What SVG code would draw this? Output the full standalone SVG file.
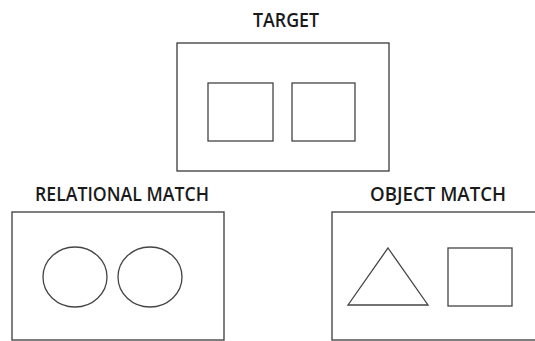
<svg xmlns="http://www.w3.org/2000/svg" width="535" height="341" viewBox="0 0 535 341">
<style>
.box{fill:#fff;stroke:#3a3a3a;stroke-width:1.3}
.sh{fill:none;stroke:#444;stroke-width:1.3}
.lbl{font-family:"Open Sans","Liberation Sans",sans-serif;font-size:19px;font-weight:600;fill:#1a1a1a;text-anchor:middle}
</style>
<rect width="535" height="341" fill="#fff"/>
<g id="target">
<text class="lbl" x="286" y="27" textLength="66" lengthAdjust="spacingAndGlyphs">TARGET</text>
<rect class="box" x="177" y="43" width="212" height="128"/>
<rect class="sh" x="208" y="83" width="65" height="58"/>
<rect class="sh" x="292" y="83" width="63" height="58"/>
</g>
<g id="relational">
<text class="lbl" x="122" y="201" textLength="174" lengthAdjust="spacingAndGlyphs">RELATIONAL MATCH</text>
<rect class="box" x="12" y="212" width="212" height="128"/>
<ellipse class="sh" cx="75" cy="277" rx="32" ry="30"/>
<ellipse class="sh" cx="150" cy="277" rx="32" ry="30"/>
</g>
<g id="object">
<text class="lbl" x="438" y="201" textLength="136" lengthAdjust="spacingAndGlyphs">OBJECT MATCH</text>
<rect class="box" x="332" y="212" width="212" height="128"/>
<polygon class="sh" points="388,248 428,305 348,305"/>
<rect class="sh" x="448" y="248" width="64" height="58"/>
</g>
<g id="connectors"></g>
</svg>
